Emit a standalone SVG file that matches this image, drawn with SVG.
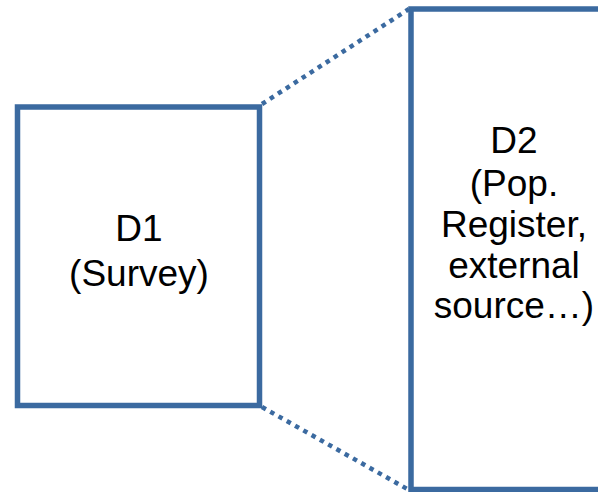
<svg xmlns="http://www.w3.org/2000/svg" width="598" height="492" viewBox="0 0 598 492">
<style>
.box{fill:#ffffff;stroke:#3b6aa0;stroke-width:5.5}
.dot{fill:none;stroke:#3b6aa0;stroke-width:4.5;stroke-dasharray:4.5 5}
.t{font-family:"Liberation Sans",Arial,sans-serif;font-size:37px;fill:#000;text-anchor:middle}
</style>
<rect width="598" height="492" fill="#ffffff"/>
<g id="connectors">
<line class="dot" x1="262" y1="104" x2="409" y2="9"/>
<line class="dot" x1="262" y1="407" x2="409" y2="490"/>
</g>
<g id="d1">
<rect class="box" x="17.5" y="107" width="242" height="298.5"/>
<text class="t" x="139" y="241">D1</text>
<text class="t" x="139" y="286">(Survey)</text>
</g>
<g id="d2">
<rect class="box" x="411" y="9" width="200" height="480.5"/>
<text class="t" x="514" y="153">D2</text>
<text class="t" x="514" y="196">(Pop.</text>
<text class="t" x="514" y="237">Register,</text>
<text class="t" x="514" y="278">external</text>
<text class="t" x="514" y="318">source…)</text>
</g>
</svg>
